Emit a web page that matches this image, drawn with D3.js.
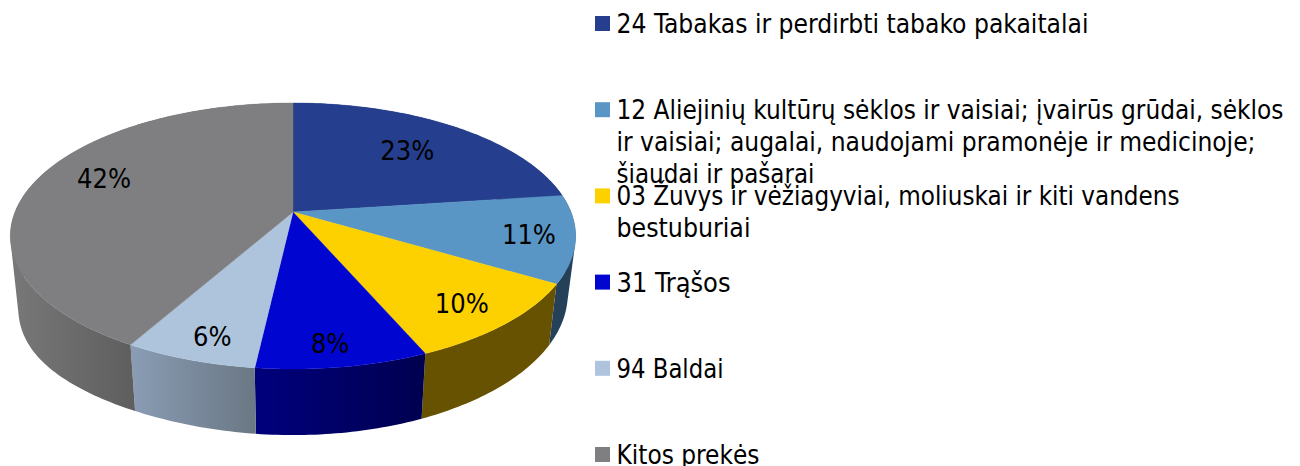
<!DOCTYPE html>
<html>
<head>
<meta charset="utf-8">
<script src="https://cdn.jsdelivr.net/npm/d3@7"></script>
<style>
  html, body { margin: 0; padding: 0; background: #fff; overflow: hidden; }
  text { font-family: "DejaVu Sans Condensed", "DejaVu Sans", sans-serif; fill: #000; }
</style>
</head>
<body>
<div id="container"></div>
<script>
/* DATA */
const values = [22.9, 10.6, 10.0, 8.3, 6.4, 41.8];
const pieLabels = ["23%", "11%", "10%", "8%", "6%", "42%"];
const legendLines = [
  ["24 Tabakas ir perdirbti tabako pakaitalai"],
  ["12 Aliejinių kultūrų sėklos ir vaisiai; įvairūs grūdai, sėklos",
   "ir vaisiai; augalai, naudojami pramonėje ir medicinoje;",
   "šiaudai ir pašarai"],
  ["03 Žuvys ir vėžiagyviai, moliuskai ir kiti vandens",
   "bestuburiai"],
  ["31 Trąšos"],
  ["94 Baldai"],
  ["Kitos prekės"]
];

/* STYLES */
const topColors = ["#253f8e", "#5a96c5", "#fdd100", "#0006cf", "#aec4dc", "#7f7f82"];
const sideLeft = ["#1a2c60", "#254059", "#665200", "#00007c", "#8a9db5", "#787878"];
const sideRight = ["#1a2c60", "#254059", "#665200", "#000050", "#6a7784", "#5f5f5f"];
const labelRadius = [0.69, 0.84, 0.83, 0.87, 0.86, 0.765];
const labelTurn = [-0.5, 0, 1, 1, -1.3, 6.4]; // degrees, the labels are not quite mid slice
// the reference font is a bit narrower on some lines, so fit each line to its measured length
const legendLengths = [[472], [667, 639, 198], [563, 134], [114], [107], [143]];

/* CONSTANTS */
const width = 1300, height = 466;
const cx = 293, apexY = 212, farY = 103, nearY = 369, spreadX = 278;
const bottomShrink = 0.972;

// tilted disc: straight lines stay straight, so the near half looks bigger
const persp = (nearY + farY - 2 * apexY) / (farY - nearY);
const slope = nearY * (1 + persp) - apexY;

function project(angle, r) {
  const u = Math.sin(angle) * r, v = -Math.cos(angle) * r;
  const w = 1 + persp * v;
  return [cx + spreadX * u / w, (slope * v + apexY) / w];
}

function projectBottom(angle) {
  const [x, y] = project(angle, 1);
  // the left edge hangs a little deeper than the right one
  const left = Math.max(0, (cx - x) / 283);
  return [cx + (x - cx) * bottomShrink, y + 61 + (y - 284) * 0.06 + 14 * Math.pow(left, 4)];
}

const svg = d3.select("#container")
  .append("svg")
  .attr("width", width)
  .attr("height", height);

const color = d3.scaleOrdinal().domain(d3.range(values.length)).range(topColors);
const arcs = d3.pie().sort(null)(values);
const line = d3.line();

function rim(a0, a1) {
  const n = Math.max(2, Math.ceil((a1 - a0) * 60));
  return d3.range(n + 1).map(i => a0 + (a1 - a0) * i / n);
}

/* SIDE */
const defs = svg.append("defs");
arcs.forEach((d, i) => {
  const a = rim(d.startAngle, d.endAngle);
  const xs = d3.extent(a.flatMap(t => [project(t, 1)[0], projectBottom(t)[0]]));
  const g = defs.append("linearGradient")
    .attr("id", "side" + i)
    .attr("gradientUnits", "userSpaceOnUse")
    .attr("x1", xs[0])
    // last slice runs round the back, only its visible part gets the shading
    .attr("x2", i === 5 ? project(d.startAngle, 1)[0] : xs[1])
    .attr("y1", 0).attr("y2", 0);
  g.append("stop").attr("offset", 0).attr("stop-color", sideLeft[i]);
  g.append("stop").attr("offset", 1).attr("stop-color", sideRight[i]);

  // quads in one path, so the wall fills out to its silhouette with no seams.
  // all wound the same way or the overlap at the fold cancels out
  const wall = d3.pairs(a)
    .map(([t0, t1]) => {
      const quad = [project(t0, 1), project(t1, 1), projectBottom(t1), projectBottom(t0)];
      return line(d3.polygonArea(quad) < 0 ? quad.reverse() : quad) + "Z";
    })
    .join("");

  svg.append("path")
    .attr("d", wall)
    .attr("fill", `url(#side${i})`);
});

/* TOP */
svg.append("g").selectAll("path")
  .data(arcs)
  .join("path")
  .attr("d", d => line([project(0, 0), ...rim(d.startAngle, d.endAngle).map(t => project(t, 1))]) + "Z")
  .attr("fill", (d, i) => color(i))
  .attr("stroke", (d, i) => color(i))
  .attr("stroke-width", 0.4);

/* PIE LABELS */
const labelPos = (d, i) => project((d.startAngle + d.endAngle) / 2 + labelTurn[i] * Math.PI / 180, labelRadius[i]);

svg.append("g").selectAll("text")
  .data(arcs)
  .join("text")
  .attr("x", (d, i) => labelPos(d, i)[0])
  .attr("y", (d, i) => labelPos(d, i)[1])
  .attr("text-anchor", "middle")
  .attr("dominant-baseline", "central")
  .style("font-size", "27px")
  .text((d, i) => pieLabels[i]);

/* LEGEND */
const legendY = d3.scalePoint()
  .domain(d3.range(legendLines.length))
  .range([23.5, 454.5]);

const legend = svg.append("g").selectAll("g")
  .data(legendLines.map((lines, i) => lines.map((t, j) => ({t, len: legendLengths[i][j]}))))
  .join("g")
  .attr("transform", (d, i) => `translate(595,${legendY(i)})`);

legend.append("rect")
  .attr("y", -7.5)
  .attr("width", 15)
  .attr("height", 15)
  .attr("fill", (d, i) => color(i));

legend.selectAll("text")
  .data(d => d)
  .join("text")
  .attr("x", 21.5)
  .attr("y", (d, i) => 9.5 + i * 32)
  .attr("textLength", d => d.len)
  .attr("lengthAdjust", "spacingAndGlyphs")
  .style("font-size", "26px")
  .text(d => d.t);
</script>
</body>
</html>
